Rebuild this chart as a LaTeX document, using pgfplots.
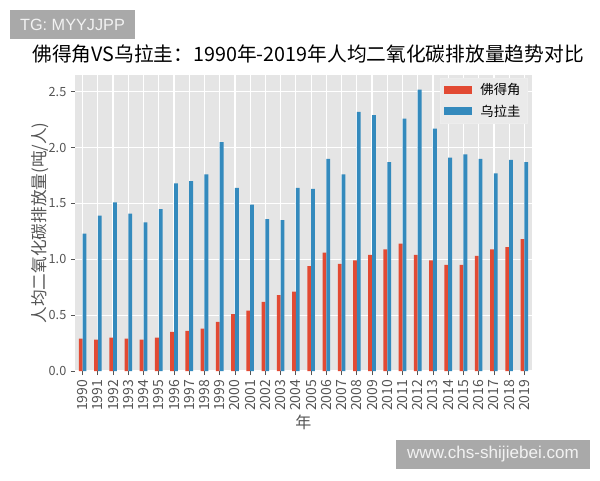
\documentclass[border=0pt]{standalone}
\usepackage{pgfplots}
\pgfplotsset{compat=1.18}
\usepackage{pgfplotstable}
\usepackage{fontspec}
\setmainfont{Noto Sans CJK SC}
\newfontfamily\wmfont{Liberation Sans}

\definecolor{cvred}{HTML}{E24A33}
\definecolor{uyblue}{HTML}{348ABD}
\definecolor{panel}{HTML}{E5E5E5}
\definecolor{labelgray}{HTML}{555555}
\definecolor{wmgray}{HTML}{A9A9A9}

% Per-capita CO2 emissions (t/person), Cape Verde and Uruguay
\pgfplotstableread{
idx year cv    uy
0   1990 0.29  1.23
1   1991 0.28  1.39
2   1992 0.30  1.51
3   1993 0.29  1.41
4   1994 0.28  1.33
5   1995 0.30  1.45
6   1996 0.35  1.68
7   1997 0.36  1.70
8   1998 0.38  1.76
9   1999 0.44  2.05
10  2000 0.51  1.64
11  2001 0.54  1.49
12  2002 0.62  1.36
13  2003 0.68  1.35
14  2004 0.71  1.64
15  2005 0.94  1.63
16  2006 1.06  1.90
17  2007 0.96  1.76
18  2008 0.99  2.32
19  2009 1.04  2.29
20  2010 1.09  1.87
21  2011 1.14  2.26
22  2012 1.04  2.52
23  2013 0.99  2.17
24  2014 0.95  1.91
25  2015 0.95  1.94
26  2016 1.03  1.90
27  2017 1.09  1.77
28  2018 1.11  1.89
29  2019 1.18  1.87
}\datatable

\begin{document}
\begin{tikzpicture}
\useasboundingbox (0pt,0pt) rectangle (450pt,-360pt);

\begin{axis}[
  at={(56.25pt,-278.25pt)}, anchor=south west,
  width=342.75pt, height=222pt, scale only axis,
  xmin=-0.5, xmax=29.5, ymin=0, ymax=2.65,
  axis background/.style={fill=panel},
  axis line style={draw=none},
  grid=major,
  major grid style={white, line width=0.9pt},
  tick align=outside,
  xtick pos=lower, ytick pos=left,
  major tick length=3pt,
  tick style={labelgray, line width=0.6pt},
  xtick={0,...,29},
  xticklabels={1990,1991,1992,1993,1994,1995,1996,1997,1998,1999,2000,2001,2002,2003,2004,2005,2006,2007,2008,2009,2010,2011,2012,2013,2014,2015,2016,2017,2018,2019},
  ytick={0,0.5,1,1.5,2,2.5},
  yticklabel style={/pgf/number format/.cd, fixed, fixed zerofill, precision=1},
  /pgf/number format/assume math mode=true,
  tick label style={font=\fontsize{9.5}{10}\selectfont, text=labelgray},
  xticklabel style={rotate=90, anchor=east, font=\fontsize{10.5}{11}\selectfont},
  title={佛得角VS乌拉圭：1990年-2019年人均二氧化碳排放量趋势对比},
  title style={font=\fontsize{14.8}{18}\selectfont, at={(axis description cs:0.51,1.044)}, anchor=center},
  xlabel={年},
  xlabel style={font=\fontsize{12}{13}\selectfont, text=labelgray, at={(axis description cs:0.5,-0.172)}, anchor=center},
  ylabel={人均二氧化碳排放量(吨/人)},
  ylabel style={font=\fontsize{12.5}{14}\selectfont, text=labelgray, at={(axis description cs:-0.0766,0.5)}, anchor=center},
  legend style={at={(0.99,0.99)}, anchor=north east, fill=panel!80!white, draw=panel!70!white,
    font=\fontsize{10}{12}\selectfont, inner xsep=3pt, inner ysep=2pt, row sep=2pt,
    /tikz/every odd column/.append style={column sep=4pt}},
  legend cell align=left,
]
\addplot[ybar, bar width=0.25, bar shift=-0.125, fill=cvred, draw=none,
  legend image code/.code={\fill[cvred] (0pt,-3pt) rectangle (21pt,3pt);}]
  table[x=idx, y=cv] {\datatable};
\addlegendentry{佛得角}
\addplot[ybar, bar width=0.25, bar shift=0.125, fill=uyblue, draw=none,
  legend image code/.code={\fill[uyblue] (0pt,-3pt) rectangle (21pt,3pt);}]
  table[x=idx, y=uy] {\datatable};
\addlegendentry{乌拉圭}
\end{axis}

% site labels
\node[fill=wmgray, text=white!95!black, font=\wmfont\fontsize{12.2}{14}\selectfont,
  minimum width=93.75pt, minimum height=21.75pt, inner sep=0pt] at (54.375pt,-18.375pt) {TG: MYYJJPP};
\node[fill=wmgray, text=white!95!black, font=\wmfont\fontsize{12.8}{14}\selectfont,
  minimum width=145.5pt, minimum height=21.75pt, inner sep=0pt] at (369.75pt,-340.875pt) {www.chs-shijiebei.com};
\end{tikzpicture}
\end{document}
